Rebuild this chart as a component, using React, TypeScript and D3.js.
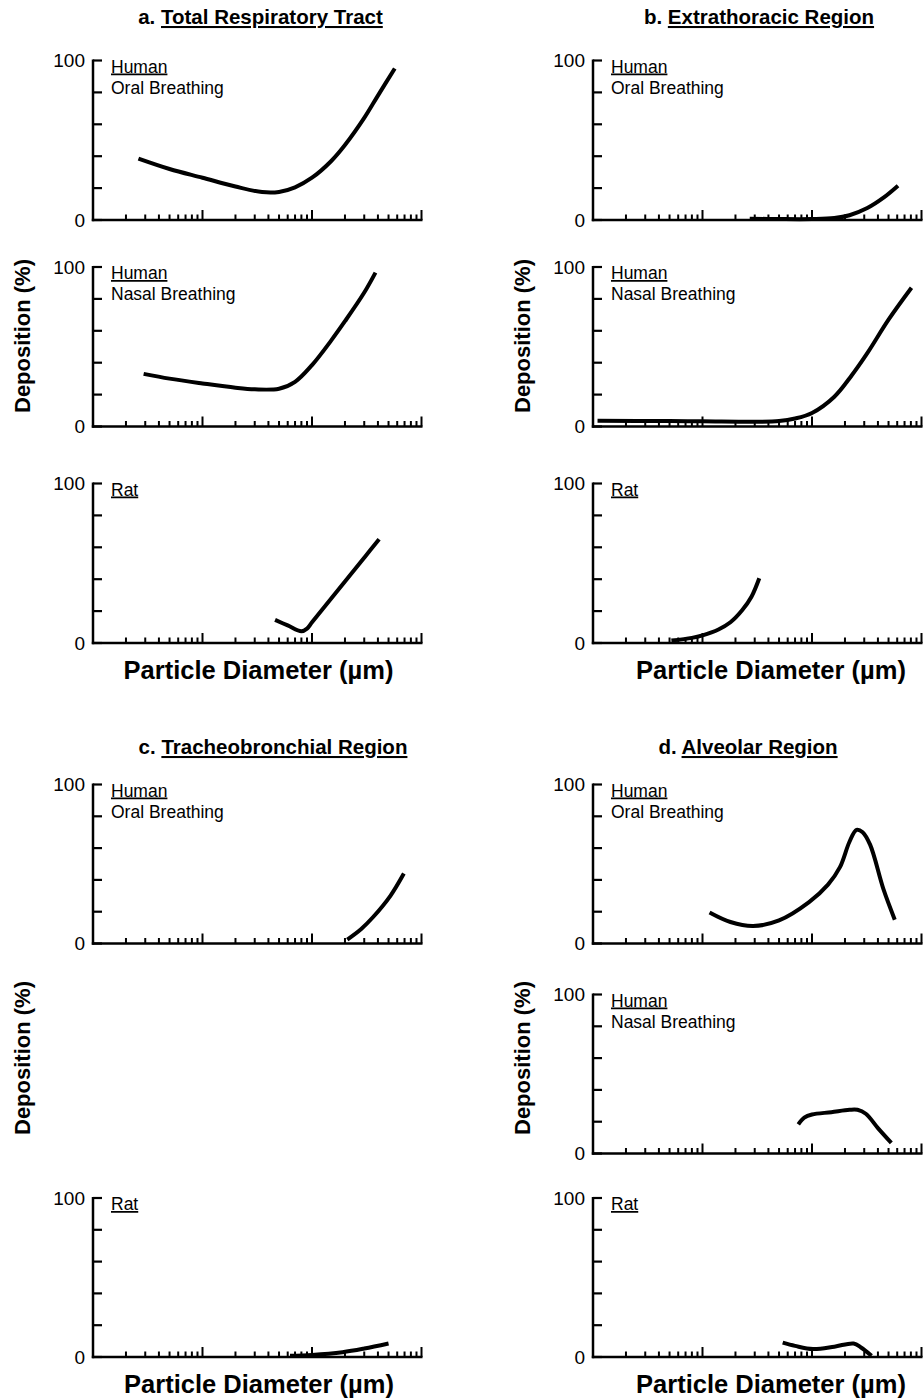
import React from "react";
import * as d3 from "d3";

// ---------- DATA (particle diameter µm, deposition %) ----------
const diameterDomain: [number, number] = [0.01, 10];
const yTicks = [0, 20, 40, 60, 80, 100];
const yTickLabels = ["0", "100"];

const totalHumanOral: [number, number][] = [
  [0.026, 38.5], [0.05, 32], [0.1, 26.5], [0.2, 21], [0.35, 17.5], [0.5, 17.6],
  [0.7, 20.5], [1, 26.5], [1.5, 37], [2, 47], [3, 64], [4, 78], [5.7, 95],
];
const totalHumanNasal: [number, number][] = [
  [0.029, 33], [0.05, 30], [0.1, 27], [0.2, 24.3], [0.3, 23.3], [0.5, 23.7],
  [0.7, 28], [1, 38.5], [1.5, 54], [2, 66], [3, 84], [3.8, 96.5],
];
const totalRat: [number, number][] = [
  [0.46, 14.5], [0.6, 11], [0.8, 7.3], [0.9, 9], [1, 13], [2, 38.5], [3, 53.5], [4.1, 65],
];

const extraHumanOral: [number, number][] = [
  [0.27, 0.8], [0.5, 0.6], [1, 0.6], [1.6, 1.2], [2.2, 3], [3.2, 7.5], [4.5, 14], [6.1, 21.5],
];
const extraHumanNasal: [number, number][] = [
  [0.011, 3.6], [0.05, 3.4], [0.1, 3.3], [0.3, 3], [0.5, 3.4], [0.7, 5], [1, 8.5],
  [1.6, 18.7], [2.3, 32], [3.2, 46], [5, 67], [8.1, 87],
];
const extraRat: [number, number][] = [
  [0.052, 1.5], [0.08, 3.2], [0.1, 4.8], [0.14, 8.5], [0.18, 13], [0.23, 20.5], [0.28, 29], [0.33, 40.6],
];

const tracheoHumanOral: [number, number][] = [
  [2.1, 2.5], [2.8, 9], [3.6, 16.5], [5.2, 30], [6.9, 44],
];
const tracheoRat: [number, number][] = [
  [0.63, 0.8], [1, 1.3], [1.9, 3], [3, 5.3], [5, 8.5],
];

const alvHumanOral: [number, number][] = [
  [0.116, 19.5], [0.18, 13.5], [0.29, 11], [0.5, 14.5], [0.94, 26], [1.4, 37], [1.8, 48],
  [2.2, 64], [2.55, 71.5], [2.9, 70], [3.4, 62], [4.5, 34], [5.7, 15],
];
const alvHumanNasal: [number, number][] = [
  [0.75, 18.3], [0.85, 22.5], [1, 24.5], [1.5, 26], [2.2, 27.5], [2.6, 27.5], [3.1, 25], [4, 16], [5.3, 6.7],
];
const alvRat: [number, number][] = [
  [0.54, 9], [0.7, 7], [1.02, 5], [1.6, 6.5], [2.4, 8.5], [2.8, 6], [3.5, 0.8],
];

const panelTitles = [
  { letter: "a. ", name: "Total Respiratory Tract" },
  { letter: "b. ", name: "Extrathoracic Region" },
  { letter: "c. ", name: "Tracheobronchial Region" },
  { letter: "d. ", name: "Alveolar Region" },
];
const subjectLabels = ["Human", "Rat"];
const breathingLabels = ["Oral Breathing", "Nasal Breathing"];
const yAxisTitle = "Deposition (%)";
const xAxisTitle = "Particle Diameter (µm)";

// ---------- LAYOUT ----------
const W = 923;
const H = 1399;
const AXIS_W = 328.5;
const colX = [93, 593];
const topRows = [
  { top: 60.5, bottom: 220 },
  { top: 267, bottom: 426.5 },
  { top: 483.5, bottom: 643 },
];
const bottomRows = [
  { top: 784.5, bottom: 943.5 },
  { top: 994.5, bottom: 1153.5 },
  { top: 1198, bottom: 1357 },
];

type Sub = {
  x0: number;
  row: { top: number; bottom: number };
  data: [number, number][];
  subject: string;
  breathing?: string;
};

const FONT = "Arial, 'Liberation Sans', Helvetica, sans-serif";

function SubPlot({ x0, row, data, subject, breathing }: Sub) {
  const x = d3.scaleLog().domain(diameterDomain).range([x0, x0 + AXIS_W]);
  const y = d3.scaleLinear().domain([0, 100]).range([row.bottom, row.top]);
  const line = d3
    .line<[number, number]>()
    .x((d) => x(d[0]))
    .y((d) => y(d[1]))
    .curve(d3.curveCatmullRom.alpha(0.5));
  const minor: number[] = [];
  [0.01, 0.1, 1].forEach((dec) => {
    for (let k = 2; k <= 9; k++) minor.push(k * dec);
  });
  const major = [0.1, 1, 10];
  return (
    <g>
      {/* y axis */}
      <line x1={x0} x2={x0} y1={row.top - 1} y2={row.bottom + 1.2} stroke="#000" strokeWidth={2.5} />
      {yTicks.map((t) => (
        <line key={"yt" + t} x1={x0} x2={x0 + 9} y1={y(t)} y2={y(t)} stroke="#000" strokeWidth={2.2} />
      ))}
      <text x={x0 - 8} y={y(100)} textAnchor="end" dominantBaseline="central" fontSize={19} fontFamily={FONT}>
        {yTickLabels[1]}
      </text>
      <text x={x0 - 8} y={y(0)} textAnchor="end" dominantBaseline="central" fontSize={19} fontFamily={FONT}>
        {yTickLabels[0]}
      </text>
      {/* x axis */}
      <line x1={x0 - 1.2} x2={x0 + AXIS_W + 1} y1={row.bottom} y2={row.bottom} stroke="#000" strokeWidth={2.5} />
      {minor.map((t) => (
        <line key={"mn" + t} x1={x(t)} x2={x(t)} y1={row.bottom} y2={row.bottom - 5.5} stroke="#000" strokeWidth={2} />
      ))}
      {major.map((t) => (
        <line key={"mj" + t} x1={x(t)} x2={x(t)} y1={row.bottom} y2={row.bottom - 10} stroke="#000" strokeWidth={2} />
      ))}
      {/* labels */}
      <text x={x0 + 18} y={row.top + 12} fontSize={17.5} fontFamily={FONT} textDecoration="underline">
        {subject}
      </text>
      {breathing && (
        <text x={x0 + 18} y={row.top + 33} fontSize={17.5} fontFamily={FONT}>
          {breathing}
        </text>
      )}
      <path d={line(data) || ""} fill="none" stroke="#000" strokeWidth={4} />
    </g>
  );
}

function Title({ cx, y, letter, name }: { cx: number; y: number; letter: string; name: string }) {
  return (
    <text x={cx} y={y} textAnchor="middle" fontSize={20.5} fontWeight="bold" fontFamily={FONT}>
      <tspan>{letter}</tspan>
      <tspan textDecoration="underline">{name}</tspan>
    </text>
  );
}

function YTitle({ x, cy }: { x: number; cy: number }) {
  return (
    <text
      transform={`translate(${x},${cy}) rotate(-90)`}
      textAnchor="middle"
      fontSize={22}
      fontWeight="bold"
      fontFamily={FONT}
    >
      {yAxisTitle}
    </text>
  );
}

function XTitle({ cx, y }: { cx: number; y: number }) {
  return (
    <text x={cx} y={y} textAnchor="middle" fontSize={25.5} fontWeight="bold" fontFamily={FONT}>
      {xAxisTitle}
    </text>
  );
}

export default function App() {
  return (
    <svg width={W} height={H} style={{ position: "absolute", left: 0, top: 0, background: "#fff" }}>
      <rect x={0} y={0} width={W} height={H} fill="#fff" />
      <Title cx={260.5} y={24} letter={panelTitles[0].letter} name={panelTitles[0].name} />
      <Title cx={759} y={24} letter={panelTitles[1].letter} name={panelTitles[1].name} />
      <Title cx={273} y={754} letter={panelTitles[2].letter} name={panelTitles[2].name} />
      <Title cx={748} y={754} letter={panelTitles[3].letter} name={panelTitles[3].name} />

      {/* a */}
      <SubPlot x0={colX[0]} row={topRows[0]} data={totalHumanOral} subject={subjectLabels[0]} breathing={breathingLabels[0]} />
      <SubPlot x0={colX[0]} row={topRows[1]} data={totalHumanNasal} subject={subjectLabels[0]} breathing={breathingLabels[1]} />
      <SubPlot x0={colX[0]} row={topRows[2]} data={totalRat} subject={subjectLabels[1]} />
      {/* b */}
      <SubPlot x0={colX[1]} row={topRows[0]} data={extraHumanOral} subject={subjectLabels[0]} breathing={breathingLabels[0]} />
      <SubPlot x0={colX[1]} row={topRows[1]} data={extraHumanNasal} subject={subjectLabels[0]} breathing={breathingLabels[1]} />
      <SubPlot x0={colX[1]} row={topRows[2]} data={extraRat} subject={subjectLabels[1]} />
      {/* c */}
      <SubPlot x0={colX[0]} row={bottomRows[0]} data={tracheoHumanOral} subject={subjectLabels[0]} breathing={breathingLabels[0]} />
      <SubPlot x0={colX[0]} row={bottomRows[2]} data={tracheoRat} subject={subjectLabels[1]} />
      {/* d */}
      <SubPlot x0={colX[1]} row={bottomRows[0]} data={alvHumanOral} subject={subjectLabels[0]} breathing={breathingLabels[0]} />
      <SubPlot x0={colX[1]} row={bottomRows[1]} data={alvHumanNasal} subject={subjectLabels[0]} breathing={breathingLabels[1]} />
      <SubPlot x0={colX[1]} row={bottomRows[2]} data={alvRat} subject={subjectLabels[1]} />

      <YTitle x={30} cy={336} />
      <YTitle x={530} cy={336} />
      <YTitle x={30} cy={1058} />
      <YTitle x={530} cy={1058} />

      <XTitle cx={258.5} y={679} />
      <XTitle cx={771} y={679} />
      <XTitle cx={259} y={1393} />
      <XTitle cx={771} y={1393} />
    </svg>
  );
}
